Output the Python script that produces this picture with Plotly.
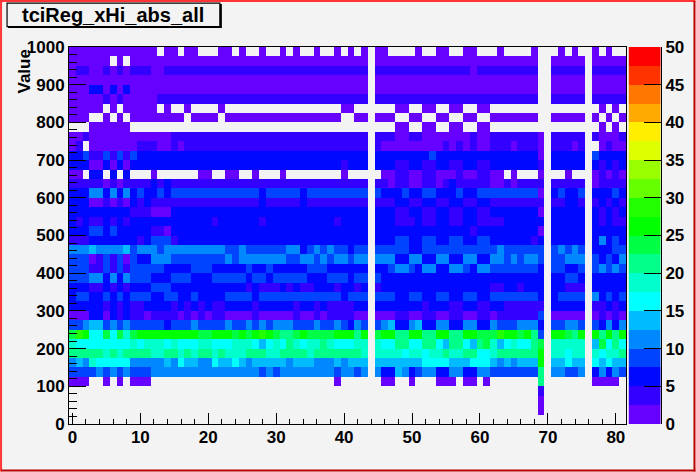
import plotly.graph_objects as go

_ = None
x_bins = list(range(82))
y_bins_top_down = [975 - 25 * i for i in range(40)]
tick_vals_x = [0, 10, 20, 30, 40, 50, 60, 70, 80]
tick_vals_y = [0, 100, 200, 300, 400, 500, 600, 700, 800, 900, 1000]
bar_ticks = [0, 5, 10, 15, 20, 25, 30, 35, 40, 45, 50]
bar_levels = [1.25,3.75,6.25,8.75,11.25,13.75,16.25,18.75,21.25,23.75,26.25,28.75,31.25,33.75,36.25,38.75,41.25,43.75,46.25,48.75]
title_text = "tciReg_xHi_abs_all"
y_title = "Value"
palette = ["#6600ff","#3300ff","#0008ff","#0044ff","#0088ff","#00bbff","#00ffff","#00ffcc","#00ff88","#00ff44",
           "#00ff00","#22ff00","#66ff00","#99ff00","#ddff00","#ffee00","#ffaa00","#ff7700","#ff3300","#ff0000"]

r975 = [1,1,1,1,1,1,1,1,1,1, 1,1,1,_,1,1,_,1,1,_, _,_,1,1,_,1,_,_,1,_, _,1,_,1,_,_,1,_,_,1, _,1,_,1,_,1,1,_,_,_, _,1,_,_,1,1,_,_,1,1, _,_,_,1,_,_,_,_,1,_, _,_,1,_,1,_,_,1,_,1, _,_]
r950 = [1,1,1,1,1,1,_,1,_,1, 1,1,1,1,1,1,1,1,1,1, 1,1,1,1,1,1,1,1,1,1, 1,1,1,1,1,1,1,1,1,1, 1,1,1,1,_,1,1,1,1,1, 1,1,1,1,1,1,1,1,1,1, 1,1,1,1,1,1,1,1,1,_, _,1,1,1,1,1,_,1,1,1, 1,1]
r925 = [1,4,4,1,1,4,1,4,1,4, 4,4,1,1,4,4,4,4,4,4, 4,4,4,4,4,4,4,4,4,4, 4,4,4,4,4,4,4,4,4,4, 4,4,4,4,_,4,4,4,4,4, 4,4,4,4,4,4,4,4,4,1, 4,4,4,4,4,4,4,4,4,_, _,4,4,4,4,4,_,4,4,4, 4,4]
r900 = [1,1,1,1,1,1,1,1,1,1, 1,1,1,1,1,1,1,1,1,1, 1,1,1,1,1,1,1,1,1,1, 1,1,1,1,1,1,1,1,1,1, 1,1,1,1,_,1,1,1,1,1, 1,1,1,1,1,1,1,1,1,1, 1,1,1,1,1,1,1,1,1,_, _,1,1,1,1,1,_,1,1,1, 1,1]
r875 = [1,1,1,6,6,1,6,1,6,1, 1,1,1,1,1,1,1,1,1,1, 1,1,1,1,1,1,1,1,1,1, 1,1,1,1,1,1,1,1,1,1, 1,1,1,1,_,1,1,1,1,1, 1,1,1,1,1,1,1,1,1,1, 1,1,1,1,1,1,1,1,1,_, _,1,1,1,1,1,_,1,1,1, 1,1]
r850 = [1,1,1,1,1,4,1,4,1,1, 1,1,1,4,4,4,4,4,4,4, 4,4,4,4,4,4,4,4,4,4, 4,4,4,4,4,4,4,4,4,4, 4,4,4,4,_,4,4,4,4,4, 4,4,4,4,4,4,4,4,4,4, 4,4,4,4,4,4,4,4,4,_, _,4,4,4,4,4,_,4,4,4, 4,4]
r825 = [1,1,1,1,1,_,1,_,1,1, 1,1,1,_,1,_,_,1,_,_, _,_,1,_,_,_,_,_,_,_, _,_,_,_,_,_,_,_,_,_, 1,1,_,_,_,_,_,_,1,1, _,_,1,1,_,_,1,1,_,_, 1,1,_,_,_,_,_,_,_,_, _,_,_,_,_,_,_,_,1,_, 1,_]
r800 = [1,1,1,_,_,1,_,1,_,1, 1,1,1,1,1,1,1,_,1,1, 1,1,_,1,1,1,1,1,1,1, 1,1,1,1,1,1,1,1,1,1, _,_,1,1,_,1,1,1,_,_, 1,1,_,_,1,1,_,_,1,1, _,_,1,1,1,1,1,1,1,_, _,1,1,1,1,1,_,1,_,1, _,1]
r775 = [_,_,_,1,1,1,1,1,1,_, _,_,_,_,_,_,_,_,_,_, _,_,_,_,_,_,_,_,_,_, _,_,_,_,_,_,_,_,_,_, _,_,_,_,_,_,_,_,1,1, _,_,1,1,_,_,1,1,_,_, 1,1,_,_,_,_,_,_,_,_, _,_,_,_,_,_,_,_,1,_, 1,_]
r750 = [1,1,4,1,1,1,1,1,1,1, 1,1,1,1,1,4,4,4,4,4, 4,4,4,4,4,4,4,4,4,4, 4,4,4,4,4,4,4,4,4,4, 4,4,4,4,_,4,4,4,1,1, 4,4,1,1,1,1,1,1,1,4, 1,1,4,4,4,4,4,4,4,1, _,4,4,4,4,4,_,4,1,1, 1,4]
r725 = [1,4,_,1,1,1,1,1,1,1, 4,4,4,1,1,4,1,4,4,4, 4,4,4,4,4,4,4,4,4,4, 4,4,4,4,4,4,4,4,4,4, 4,4,4,4,_,4,1,1,1,1, 1,1,1,1,1,4,1,4,1,4, 1,1,4,4,4,1,4,4,4,1, _,4,4,4,1,4,_,_,1,4, 1,1]
r700 = [6,6,9,4,4,9,4,9,4,9, 6,6,6,6,6,6,6,6,6,6, 6,6,6,6,6,6,6,6,6,6, 6,6,6,6,6,6,6,6,6,6, 6,6,6,6,_,6,6,6,6,6, 6,6,6,9,6,6,6,6,6,6, 6,6,6,6,6,6,6,6,6,1, _,6,6,6,6,6,_,9,6,6, 6,6]
r675 = [6,6,6,1,1,6,1,6,1,6, 6,6,6,6,6,6,6,6,6,6, 6,6,6,6,6,6,6,6,6,6, 6,6,6,6,6,6,6,6,6,6, 4,6,6,6,_,6,6,6,4,4, 6,6,4,4,6,6,4,4,6,6, 4,4,6,6,6,6,6,6,6,4, _,6,6,6,6,6,_,6,4,6, 4,6]
r650 = [1,1,_,6,6,_,6,_,6,_, _,_,1,_,_,_,_,_,_,1, 1,_,_,1,1,_,_,1,_,_, _,1,_,_,_,_,_,_,_,_, 1,_,_,_,_,_,1,1,4,4, 1,1,4,4,1,1,1,4,1,1, 4,4,1,1,_,1,_,_,_,1, _,_,_,1,_,_,_,1,4,1, 4,1]
r625 = [4,4,4,4,4,1,4,1,4,4, 4,4,6,4,6,4,4,4,4,4, 4,4,4,4,4,4,4,4,4,4, 4,4,4,4,4,4,4,4,4,4, 4,4,4,4,_,4,4,1,4,4, 1,1,4,4,1,4,6,4,4,4, 4,4,1,1,4,1,4,4,4,4, _,4,4,4,4,4,_,1,4,4, 4,4]
r600 = [6,6,6,11,11,6,11,6,11,6, 9,6,6,9,6,9,9,9,9,9, 9,9,9,9,9,9,9,9,6,9, 9,9,9,9,6,9,9,9,9,9, 9,9,9,9,_,9,6,6,6,9, 6,6,9,9,6,6,6,9,6,6, 9,9,9,9,9,9,9,9,9,1, _,6,9,6,6,9,_,6,6,6, 9,6]
r575 = [6,6,6,1,1,4,1,4,1,6, 4,6,4,4,4,4,4,4,4,4, 4,4,4,4,4,4,4,4,6,4, 4,4,4,4,6,4,4,4,4,4, 4,4,4,4,_,4,4,4,6,6, 4,4,6,6,4,4,6,6,4,4, 6,6,4,4,4,4,4,4,4,4, _,4,4,6,6,4,_,4,6,4, 6,4]
r550 = [6,6,6,6,6,6,6,6,6,4, 4,4,1,1,1,6,6,6,6,6, 6,6,6,6,6,6,6,6,6,6, 6,6,6,6,6,6,6,6,6,6, 6,6,6,6,_,6,6,6,4,4, 6,6,4,4,6,6,4,4,6,6, 4,4,6,6,6,6,6,6,6,1, _,6,6,6,6,6,_,6,4,6, 4,6]
r525 = [6,4,6,4,4,6,4,6,4,6, 6,6,6,6,6,6,6,6,6,6, 6,4,6,6,6,6,6,6,4,6, 6,6,6,6,6,6,6,6,6,4, 6,6,6,6,_,6,6,6,4,4, 4,6,4,4,6,6,4,4,6,6, 4,4,4,4,6,6,6,6,6,6, _,6,6,6,6,6,_,6,4,6, 4,4]
r500 = [6,6,6,9,9,6,9,6,6,6, 6,6,4,4,1,6,6,6,6,6, 6,6,6,6,6,6,6,6,6,6, 6,6,6,6,6,6,6,6,6,6, 6,6,6,6,_,6,6,6,6,6, 6,6,6,6,6,6,6,6,6,4, 6,6,6,6,6,6,6,6,6,1, _,6,6,6,6,6,_,6,6,6, 6,6]
r475 = [4,4,4,6,6,6,6,6,6,6, 4,6,9,9,9,4,6,6,6,6, 6,6,6,6,6,6,6,6,6,6, 6,6,6,6,6,6,6,6,6,6, 6,6,6,6,_,6,6,6,9,9, 6,6,9,9,6,6,9,9,6,6, 9,9,6,6,6,6,6,6,4,6, _,6,6,6,6,6,_,6,11,6, 9,6]
r450 = [11,11,11,14,11,11,11,11,14,9, 11,11,11,9,11,11,11,11,11,11, 11,11,11,9,9,11,9,9,9,9, 9,9,11,11,6,9,11,9,11,9, 9,6,9,9,_,9,9,9,9,9, 6,6,9,9,9,9,9,9,9,9, 9,9,9,11,9,9,9,9,9,9, _,9,11,9,11,9,_,6,6,6, 9,9]
r425 = [9,9,9,1,4,9,4,9,1,9, 6,6,11,11,11,9,9,9,9,9, 9,9,9,11,9,11,11,11,11,11, 11,11,9,9,11,11,9,11,9,11, 11,9,11,11,_,11,11,11,6,6, 11,11,6,6,11,11,6,6,11,11, 6,6,11,11,9,11,9,11,11,9, _,9,9,11,11,11,_,9,6,9, 6,11]
r400 = [9,9,9,4,4,9,4,9,4,9, 9,9,9,9,6,6,6,6,9,9, 9,6,6,6,6,6,9,6,6,9, 6,6,6,6,6,9,9,9,6,6, 6,6,6,6,_,6,6,9,11,11, 9,6,11,11,6,6,11,11,9,6, 11,11,9,9,9,9,9,9,9,6, _,9,9,6,6,9,_,9,11,9, 11,9]
r375 = [9,9,9,11,11,6,11,6,11,9, 9,9,6,6,6,9,9,9,6,6, 6,9,9,9,9,9,6,9,9,6, 9,9,9,9,9,6,6,6,9,9, 9,6,9,9,_,9,6,6,6,6, 6,6,6,6,6,6,6,6,6,6, 6,6,6,6,6,6,6,6,6,6, _,6,6,9,9,6,_,6,6,6, 6,6]
r350 = [6,6,6,4,4,6,4,6,4,6, 6,6,9,9,9,6,6,6,6,6, 6,6,6,6,6,6,4,6,4,4, 4,6,4,6,4,4,6,6,6,4, 6,6,4,6,_,4,6,6,6,6, 6,6,6,6,6,6,6,6,6,6, 6,6,4,4,6,6,4,6,6,6, _,6,6,4,4,4,_,6,6,6, 6,6]
r325 = [6,9,9,6,6,9,6,9,6,9, 9,9,6,6,9,9,6,6,9,6, 6,6,6,9,9,9,9,6,9,9, 9,9,9,9,9,9,9,9,9,9, 6,9,9,9,_,9,9,9,6,6, 9,9,6,6,9,9,6,6,9,9, 6,6,9,9,9,9,9,9,9,6, _,6,9,9,9,9,_,11,6,9, 6,9]
r300 = [6,6,6,6,6,4,6,4,6,4, 4,6,6,6,6,4,6,4,6,4, 6,4,4,6,6,6,6,4,6,6, 6,6,6,4,6,6,4,6,4,4, 4,4,6,6,_,6,6,6,6,6, 6,6,4,6,6,6,4,4,6,6, 4,4,6,6,4,4,4,4,4,4, _,6,6,6,6,6,_,4,4,6, 4,6]
r275 = [1,1,1,6,6,1,6,4,6,4, 4,1,4,4,4,4,1,4,1,4, 1,4,4,1,1,1,1,4,1,1, 1,1,1,4,1,1,4,1,4,4, 4,4,1,1,_,1,1,1,4,4, 1,1,4,4,1,1,4,4,1,1, 4,4,1,4,4,4,4,4,4,9, _,1,1,1,1,1,_,1,4,1, 4,1]
r250 = [9,9,11,14,14,9,11,9,11,9, 9,9,9,9,6,9,9,9,11,9, 9,9,9,11,9,9,11,9,11,9, 11,11,11,9,9,9,11,9,9,11, 9,6,11,9,_,9,11,14,6,6, 11,14,6,6,11,11,6,6,11,11, 6,6,11,9,9,9,11,11,11,6, _,9,9,11,11,9,_,9,6,11, 6,11]
r225 = [24,29,26,16,16,24,16,24,19,24, 26,26,26,26,26,26,26,26,26,24, 24,26,26,26,24,26,24,26,29,26, 24,21,21,24,26,24,24,24,24,26, 26,26,21,26,_,24,26,26,21,21, 26,26,21,21,26,26,21,21,26,26, 24,24,24,29,26,26,24,26,21,9, _,26,26,24,21,26,_,26,21,26, 21,26]
r200 = [19,16,16,16,16,16,16,16,16,19, 16,19,19,19,16,19,16,16,16,19, 19,16,16,16,19,19,19,16,14,16, 19,16,21,19,16,19,19,21,19,16, 16,16,19,19,_,19,16,16,21,21, 16,16,21,21,16,14,21,21,16,14, 21,24,19,14,16,19,16,16,21,24, _,19,19,19,19,19,_,14,24,16, 21,16]
r175 = [21,21,21,21,21,19,21,19,21,21, 21,21,19,19,21,21,19,21,19,21, 21,19,21,19,19,19,21,21,21,19, 19,21,21,21,21,19,21,21,21,21, 21,21,21,19,_,19,19,19,19,16, 19,19,16,19,19,21,19,19,21,21, 16,16,19,21,21,21,21,21,21,26, _,19,19,16,19,19,_,19,16,19, 19,21]
r150 = [11,14,11,19,16,16,16,16,16,11, 11,11,11,11,14,11,16,14,14,11, 11,16,14,14,16,14,11,14,14,14, 14,14,11,14,14,14,11,11,11,14, 11,14,14,14,_,14,14,14,14,14, 14,14,16,16,16,16,14,14,14,16, 16,16,14,11,14,11,14,14,14,26, _,14,14,16,14,14,_,16,14,16, 14,14]
r125 = [9,9,9,9,11,9,11,9,11,9, 9,9,11,11,11,11,11,11,11,11, 11,11,11,11,11,11,11,11,9,11, 9,11,11,11,11,11,11,11,11,9, 11,11,9,11,_,11,6,6,14,11, 6,9,11,11,6,6,11,11,6,6, 11,11,9,9,9,9,9,9,9,21, _,11,11,9,9,11,_,6,11,6, 11,9]
r100 = [1,1,1,_,_,1,_,1,_,1, 1,1,_,_,_,_,_,_,_,_, _,_,_,_,_,_,_,_,_,_, _,_,_,_,_,_,_,_,_,1, _,_,_,_,_,_,1,1,_,_, 1,_,_,_,1,1,1,_,1,1, _,1,_,_,_,_,_,_,_,21, _,_,_,_,_,_,_,1,1,1, 1,_]
r075 = [_,_,_,_,_,_,_,_,_,_, _,_,_,_,_,_,_,_,_,_, _,_,_,_,_,_,_,_,_,_, _,_,_,_,_,_,_,_,_,_, _,_,_,_,_,_,_,_,_,_, _,_,_,_,_,_,_,_,_,_, _,_,_,_,_,_,_,_,_,4, _,_,_,_,_,_,_,_,_,_, _,_]
r050 = [_,_,_,_,_,_,_,_,_,_, _,_,_,_,_,_,_,_,_,_, _,_,_,_,_,_,_,_,_,_, _,_,_,_,_,_,_,_,_,_, _,_,_,_,_,_,_,_,_,_, _,_,_,_,_,_,_,_,_,_, _,_,_,_,_,_,_,_,_,1, _,_,_,_,_,_,_,_,_,_, _,_]
r025 = [_,_,_,_,_,_,_,_,_,_, _,_,_,_,_,_,_,_,_,_, _,_,_,_,_,_,_,_,_,_, _,_,_,_,_,_,_,_,_,_, _,_,_,_,_,_,_,_,_,_, _,_,_,_,_,_,_,_,_,_, _,_,_,_,_,_,_,_,_,1, _,_,_,_,_,_,_,_,_,_, _,_]
r000 = [_,_,_,_,_,_,_,_,_,_, _,_,_,_,_,_,_,_,_,_, _,_,_,_,_,_,_,_,_,_, _,_,_,_,_,_,_,_,_,_, _,_,_,_,_,_,_,_,_,_, _,_,_,_,_,_,_,_,_,_, _,_,_,_,_,_,_,_,_,_, _,_,_,_,_,_,_,_,_,_, _,_]

rows_top_down = [r975,r950,r925,r900,r875,r850,r825,r800,r775,r750,r725,r700,r675,r650,r625,r600,r575,r550,r525,r500,
                 r475,r450,r425,r400,r375,r350,r325,r300,r275,r250,r225,r200,r175,r150,r125,r100,r075,r050,r025,r000]
for lo, row in zip(y_bins_top_down, rows_top_down):
    if len(row) != len(x_bins):
        raise SystemExit(f"row {lo} has {len(row)} cells")

# Page geometry, in pixels
W, H = 696, 472
L, R, T, B = 69, 661.5, 47, 424.5   # whole drawing area, frame plus palette bar
FRAME_R, BAR_L = 626.5, 629
BG = "#f3f3f3"
FONT = "Liberation Sans"


def px(x):
    return (x - L) / (R - L)


def py(y):
    return (B - y) / (B - T)


n = len(palette)
scale = []
for i, c in enumerate(palette):
    scale += [[i / n, c], [(i + 1) / n, c]]

fig = go.Figure()
fig.add_trace(go.Heatmap(
    x=x_bins,
    y=[lo + 12.5 for lo in y_bins_top_down],
    z=rows_top_down,
    zmin=0, zmax=50, colorscale=scale, showscale=False,
    hoverongaps=False, xaxis="x", yaxis="y",
))
fig.add_trace(go.Heatmap(
    x=[0.5],
    y=bar_levels,
    z=[[v] for v in bar_levels],
    zmin=0, zmax=50, colorscale=scale, showscale=False,
    xaxis="x2", yaxis="y2",
))


def line(x0, y0, x1, y1, color="black", width=1):
    return dict(type="line", xref="paper", yref="paper", layer="above",
                x0=px(x0), y0=py(y0), x1=px(x1), y1=py(y1),
                line=dict(color=color, width=width))


shapes = [
    # title box and its shadow
    dict(type="rect", xref="paper", yref="paper", x0=px(7), y0=py(26.5), x1=px(220), y1=py(3),
         fillcolor=BG, line=dict(color="black", width=1.2), layer="above"),
    line(8, 27, 221, 27, width=2),
    line(221, 4, 221, 28, width=2),
    # canvas edge
    line(1, 0, 1, H, color="#ff3333", width=2),
    line(0, 1, W, 1, color="#ff3333", width=2),
    line(W - 1, 1, W - 1, H, color="#bb0000", width=2),
    line(1, H - 1, W, H - 1, color="#bb0000", width=2),
]

tick_font = dict(family=FONT, size=17, color="black", weight="bold")

fig.update_layout(
    width=W, height=H,
    margin=dict(l=L, r=W - R, t=T, b=H - B, pad=0),
    paper_bgcolor=BG, plot_bgcolor=BG,
    font=dict(family=FONT, color="black"),
    xaxis=dict(
        domain=[0, px(FRAME_R)],
        range=[-0.5, 81.5], tickmode="array", tickvals=tick_vals_x, ticktext=[str(v) for v in tick_vals_x],
        ticks="inside", ticklen=11, tickwidth=1, tickcolor="black", ticklabelstandoff=-2,
        minor=dict(dtick=2, tick0=0, ticks="inside", ticklen=5, tickwidth=1, tickcolor="black"),
        showline=True, linecolor="black", linewidth=1, mirror=True, showgrid=False, zeroline=False,
        tickfont=tick_font, layer="above traces",
    ),
    yaxis=dict(
        range=[0, 1000], tickmode="array", tickvals=tick_vals_y, ticktext=[str(v) for v in tick_vals_y],
        ticks="inside", ticklen=17, tickwidth=1, tickcolor="black",
        minor=dict(dtick=20, tick0=0, ticks="inside", ticklen=8, tickwidth=1, tickcolor="black"),
        showline=True, linecolor="black", linewidth=1, mirror=True, showgrid=False, zeroline=False,
        tickfont=tick_font, layer="above traces",
    ),
    xaxis2=dict(domain=[px(BAR_L), 1], range=[0, 1], visible=False, anchor="y2"),
    yaxis2=dict(
        anchor="x2", side="right", range=[0, 50], tickmode="array", tickvals=bar_ticks,
        ticktext=[str(v) for v in bar_ticks],
        ticks="inside", ticklen=17, tickwidth=1, tickcolor="black",
        showline=True, linecolor="black", linewidth=1, showgrid=False, zeroline=False,
        tickfont=tick_font, layer="above traces",
    ),
    shapes=shapes,
    annotations=[
        dict(text=title_text, xref="paper", yref="paper", x=px(113.5), y=py(15), xanchor="center", yanchor="middle",
             showarrow=False, font=dict(family=FONT, size=20, color="black", weight="bold")),
        dict(text=y_title, xref="paper", yref="paper", x=px(24), y=py(71.5), xanchor="center", yanchor="middle",
             textangle=-90, showarrow=False, font=dict(family=FONT, size=17, color="black", weight="bold")),
    ],
)

fig.write_html("out.html", config=dict(displayModeBar=False),
               post_script="document.body.style.margin='0';document.body.style.overflow='hidden';")
